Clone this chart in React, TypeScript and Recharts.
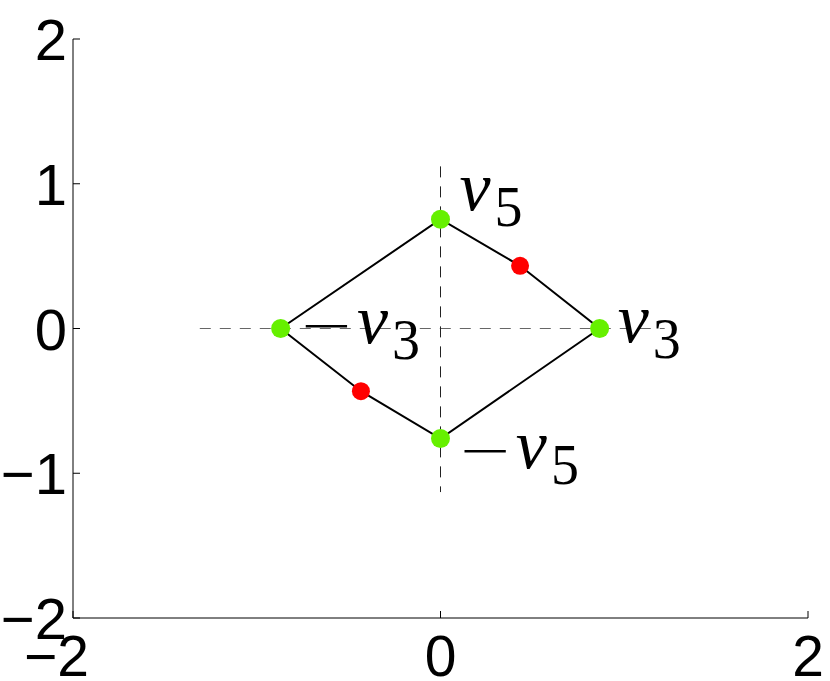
import { ScatterChart, Scatter, XAxis, YAxis } from 'recharts';

// vertices of the rhombus (green) and the two bend points (red)
const greenX = [0, 0.866, 0, -0.87];
const greenY = [0.755, 0, -0.76, 0];
const greenNames = ['v_5', 'v_3', '−v_5', '−v_3'];
const redX = [0.433, -0.433];
const redY = [0.433, -0.433];

// closed outline: -v3 -> v5 -> red -> v3 -> -v5 -> red -> -v3
const outlineX = [-0.87, 0, 0.433, 0.866, 0, -0.433, -0.87];
const outlineY = [0, 0.755, 0.433, 0, -0.76, -0.433, 0];

// dashed guide lines
const hDashX = [-1.31, 1.22];
const hDashY = [0, 0];
const vDashX = [0, 0];
const vDashY = [1.12, -1.13];

const xTicks = [-2, 0, 2];
const yTicks = [-2, -1, 0, 1, 2];

const zip = (xs: number[], ys: number[]) => xs.map((x, i) => ({ x, y: ys[i] }));

const greenData = greenX.map((x, i) => ({ x, y: greenY[i], name: greenNames[i] }));
const redData = zip(redX, redY);
const outlineData = zip(outlineX, outlineY);
const hDashData = zip(hDashX, hDashY);
const vDashData = zip(vDashX, vDashY);

// label placement relative to the marker, in pixels
const LABEL_OFFSET: Record<string, [number, number]> = {
    'v_5': [19, -9],
    'v_3': [18, 13],
    '−v_5': [17, 29],
    '−v_3': [18, 14],
};

const TICK_FONT = '"Liberation Sans", Arial, sans-serif';
const LABEL_FONT = '"Liberation Serif", "DejaVu Serif", serif';

const fmt = (v: number) => (v < 0 ? `−${Math.abs(v)}` : `${v}`);

const YTick = ({ x, y, payload }: any) => (
    <g>
        <line x1={x} y1={y} x2={x + 7} y2={y} stroke="#000" strokeWidth={1} />
        <text x={x - 6} y={y + 21} textAnchor="end" fontSize={58} fontFamily={TICK_FONT} fill="#000">
            {fmt(payload.value)}
        </text>
    </g>
);

const XTick = ({ x, y, payload }: any) => (
    <g>
        <line x1={x} y1={y} x2={x} y2={y - 7} stroke="#000" strokeWidth={1} />
        <text x={x + 16} y={y + 58} textAnchor="end" fontSize={57} fontFamily={TICK_FONT} fill="#000">
            {fmt(payload.value)}
        </text>
    </g>
);

const Nothing = () => <g />;

const GreenDot = ({ cx, cy, payload }: any) => {
    const name: string = payload.name;
    const [dx, dy] = LABEL_OFFSET[name] || [20, 0];
    const neg = name.startsWith('−');
    const [base, sub] = name.replace('−', '').split('_');
    return (
        <g>
            <circle cx={cx} cy={cy} r={9.5} fill="#66f000" />
            <text x={cx + dx} y={cy + dy} fontFamily={LABEL_FONT} fill="#000" fontSize={70}>
                {neg && <tspan fontFamily='"DejaVu Sans", sans-serif' fontWeight={200} fontSize={66} dy={4}>−</tspan>}
                <tspan fontStyle="italic" dx={neg ? 3 : 0} dy={neg ? -4 : 0}>{base}</tspan>
                <tspan fontSize={56} dy={16} dx={4}>{sub}</tspan>
            </text>
        </g>
    );
};

const RedDot = ({ cx, cy }: any) => <circle cx={cx} cy={cy} r={9} fill="#ff0000" />;

export default function App() {
    return (
        <div style={{ position: 'absolute', left: 0, top: 0, background: '#fff' }}>
            <ScatterChart width={830} height={681} margin={{ top: 39, right: 22, bottom: 0, left: 0 }}>
                <XAxis type="number" dataKey="x" domain={[-2, 2]} ticks={xTicks} height={63}
                    tickSize={0} tickMargin={0} tickLine={false} axisLine={{ stroke: '#000' }}
                    tick={<XTick />} interval={0} allowDataOverflow />
                <YAxis type="number" dataKey="y" domain={[-2, 2]} ticks={yTicks} width={73}
                    tickSize={0} tickMargin={0} tickLine={false} axisLine={{ stroke: '#000' }}
                    tick={<YTick />} interval={0} allowDataOverflow />

                <Scatter data={hDashData} shape={<Nothing />} isAnimationActive={false}
                    line={{ stroke: '#666', strokeWidth: 1, strokeDasharray: '11 9' }} />
                <Scatter data={vDashData} shape={<Nothing />} isAnimationActive={false}
                    line={{ stroke: '#222', strokeWidth: 1, strokeDasharray: '11 9' }} />
                <Scatter data={outlineData} shape={<Nothing />} isAnimationActive={false}
                    line={{ stroke: '#000', strokeWidth: 2 }} />
                <Scatter data={redData} shape={<RedDot />} isAnimationActive={false} />
                <Scatter data={greenData} shape={<GreenDot />} isAnimationActive={false} />
            </ScatterChart>
        </div>
    );
}
